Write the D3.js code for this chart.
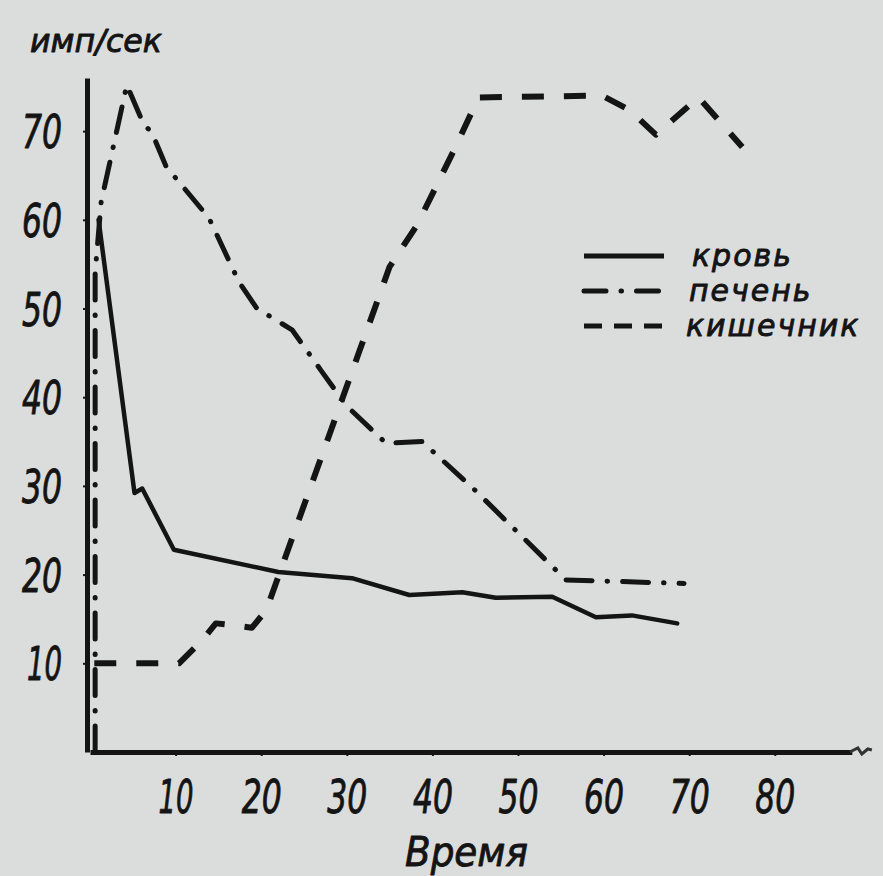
<!DOCTYPE html>
<html>
<head>
<meta charset="utf-8">
<script src="https://cdn.jsdelivr.net/npm/d3@7"></script>
<style>
  html, body { margin: 0; padding: 0; background: #dbdcdc; }
  svg { display: block; }
  .lbl, .num {
    font-family: "DejaVu Sans", sans-serif; font-style: oblique;
    fill: #141414; stroke: #141414; stroke-width: 0.9px; stroke-linejoin: round;
  }
</style>
</head>
<body>
<script>
// данные (время, имп/сек)
const xTicks = [10, 20, 30, 40, 50, 60, 70, 80];
const yTicks = [10, 20, 30, 40, 50, 60, 70];

const bloodTime = [1, 5.2, 6.1, 9.8, 22, 30.6, 37.3, 43.5, 47.4, 54, 59.1, 63.3, 68.6];
const bloodVal  = [60, 29.2, 29.7, 22.8, 20.3, 19.6, 17.7, 18, 17.4, 17.5, 15.2, 15.4, 14.5];

const liverTime = [0.6, 0.6, 1.3, 4.3, 6.3, 7.2, 8.9, 13.9, 17.4, 19.5, 23.6, 27, 30, 34.6, 38.8, 45, 55.6, 69.4];
const liverVal  = [0, 54, 62, 75.2, 70.7, 69.9, 66, 60.2, 53, 50, 47.6, 43, 39, 34.8, 35, 29.5, 19.4, 19];

const gutTime = [0.5, 10.4, 13.1, 14.7, 16.6, 18.9, 20.6, 31.4, 35, 38.2, 42.6, 45.4, 59.8, 63, 66.1, 71.1, 76.2];
const gutVal  = [10, 10, 12.6, 14.5, 14.3, 14, 16, 45, 54.7, 59.4, 68, 73.8, 74, 72.4, 69.6, 73.8, 68.2];

const seriesNames = ["кровь", "печень", "кишечник"];

const W = 883, H = 876;
const ink = "#141414";

const svg = d3.select("body").append("svg").attr("width", W).attr("height", H);
svg.append("rect").attr("width", W).attr("height", H).attr("fill", "#dbdcdc");

const x = d3.scaleLinear().domain([0, 89]).range([90, 90 + 89 * 8.56]);
const y = d3.scaleLinear().domain([0, 76]).range([752, 752 - 76 * 8.87]);

// оси
const xAxis = svg.append("g")
  .attr("transform", `translate(0,${y(0)})`)
  .call(d3.axisBottom(x).tickValues(xTicks).tickSize(4).tickSizeOuter(0));
const yAxis = svg.append("g")
  .attr("transform", `translate(${x(0) - 3},0)`)
  .call(d3.axisLeft(y).tickValues(yTicks).tickSize(4).tickSizeOuter(0).tickPadding(21));

[xAxis, yAxis].forEach(a => {
  a.select(".domain").attr("stroke", ink).attr("stroke-width", 5);
  a.selectAll(".tick line").attr("stroke", ink).attr("stroke-width", 2);
  a.selectAll(".tick text")
    .attr("class", "num")
    .attr("fill", ink)
    .attr("textLength", d => (d === 10 ? 35 : 40))
    .attr("lengthAdjust", "spacingAndGlyphs")
    .style("font-size", "46px");
});
yAxis.selectAll(".tick text").attr("dy", "0.36em");
xAxis.selectAll(".tick text").attr("y", 61).attr("dy", 0);

// хвостик-стрелка на конце оси X
const xe = x(89), ye = y(0);
svg.append("path")
  .attr("d", `M${xe - 2},${ye} l8,-4 l4,6 l6,-5 l4,1`)
  .attr("fill", "none").attr("stroke", "#333").attr("stroke-width", 3);

// подписи осей
svg.append("text").attr("class", "lbl")
  .attr("x", 30).attr("y", 52).style("font-size", "32px")
  .attr("textLength", 132).attr("lengthAdjust", "spacingAndGlyphs")
  .text("имп/сек");
svg.append("text").attr("class", "lbl")
  .attr("x", 405).attr("y", 866).style("font-size", "41px")
  .attr("textLength", 123).attr("lengthAdjust", "spacingAndGlyphs")
  .text("Время");

// кривые
const line = d3.line().x(d => x(d[0])).y(d => y(d[1]));
const zip = (t, v) => t.map((d, i) => [d, v[i]]);

const styles = [
  { w: 4.5, dash: null, cap: "round" },
  { w: 5, dash: "26,15,0.5,15", cap: "round" },
  { w: 6, dash: "22,20", cap: "butt" }
];
const series = [zip(bloodTime, bloodVal), zip(liverTime, liverVal), zip(gutTime, gutVal)];

series.forEach((s, i) => {
  svg.append("path")
    .datum(s)
    .attr("d", line)
    .attr("fill", "none")
    .attr("stroke", ink)
    .attr("stroke-width", styles[i].w)
    .attr("stroke-linejoin", "round")
    .attr("stroke-linecap", styles[i].cap)
    .attr("stroke-dasharray", styles[i].dash);
});

// легенда
const legDash = [null, "22,15,0.5,15", "18,12"];
const leg = svg.append("g").attr("transform", "translate(584,256)");
seriesNames.forEach((name, i) => {
  const gy = i * 35;
  leg.append("line")
    .attr("x1", 0).attr("x2", 80).attr("y1", gy).attr("y2", gy)
    .attr("stroke", ink)
    .attr("stroke-width", 5)
    .attr("stroke-linecap", i === 1 ? "round" : "butt")
    .attr("stroke-dasharray", legDash[i]);
  leg.append("text").attr("class", "lbl")
    .attr("x", 108 - i * 3).attr("y", gy + 10)
    .style("font-size", "30px")
    .style("letter-spacing", "2px")
    .text(name);
});
</script>
</body>
</html>
